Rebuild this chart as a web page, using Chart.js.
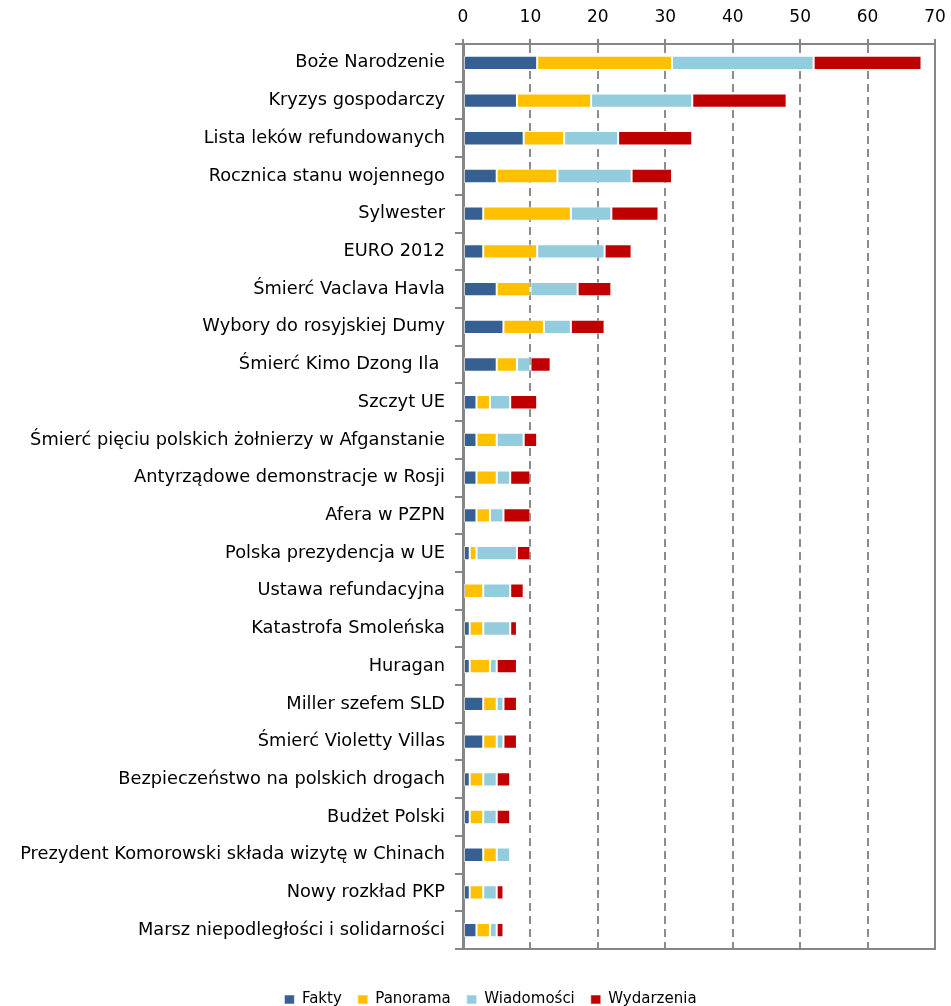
<!DOCTYPE html>
<html>
<head>
<meta charset="utf-8">
<script src="https://cdn.jsdelivr.net/npm/chart.js@4.4.0/dist/chart.umd.min.js"></script>
<style>
  html, body { margin: 0; padding: 0; background: #fff; overflow: hidden; }
  #wrap { position: relative; width: 951px; height: 1017px; }
</style>
</head>
<body>
<div id="wrap"><canvas id="c"></canvas></div>
<script>
const categories = [
  "Boże Narodzenie",
  "Kryzys gospodarczy",
  "Lista leków refundowanych",
  "Rocznica stanu wojennego",
  "Sylwester",
  "EURO 2012",
  "Śmierć Vaclava Havla",
  "Wybory do rosyjskiej Dumy",
  "Śmierć Kimo Dzong Ila ",
  "Szczyt UE",
  "Śmierć pięciu polskich żołnierzy w Afganstanie",
  "Antyrządowe demonstracje w Rosji",
  "Afera w PZPN",
  "Polska prezydencja w UE",
  "Ustawa refundacyjna",
  "Katastrofa Smoleńska",
  "Huragan",
  "Miller szefem SLD",
  "Śmierć Violetty Villas",
  "Bezpieczeństwo na polskich drogach",
  "Budżet Polski",
  "Prezydent Komorowski składa wizytę w Chinach",
  "Nowy rozkład PKP",
  "Marsz niepodległości i solidarności"
];
const fakty       = [11, 8, 9, 5, 3, 3, 5, 6, 5, 2, 2, 2, 2, 1, 0, 1, 1, 3, 3, 1, 1, 3, 1, 2];
const panorama    = [20, 11, 6, 9, 13, 8, 5, 6, 3, 2, 3, 3, 2, 1, 3, 2, 3, 2, 2, 2, 2, 2, 2, 2];
const wiadomosci  = [21, 15, 8, 11, 6, 10, 7, 4, 2, 3, 4, 2, 2, 6, 4, 4, 1, 1, 1, 2, 2, 2, 2, 1];
const wydarzenia  = [16, 14, 11, 6, 7, 4, 5, 5, 3, 4, 2, 3, 4, 2, 2, 1, 3, 2, 2, 2, 2, 0, 1, 1];
const seriesNames = ["Fakty", "Panorama", "Wiadomości", "Wydarzenia"];
const xTicks = [0, 10, 20, 30, 40, 50, 60, 70];

const colors = ["#376092", "#FFC000", "#93CDDD", "#C00000"];
const seriesData = [fakty, panorama, wiadomosci, wydarzenia];
const FONT = "'DejaVu Sans', Verdana, sans-serif";
const AXIS = "#868686";

const plotBorder = {
  id: 'plotBorder',
  afterLayout(chart) {
    if (chart.legend) { chart.legend.left += 23; chart.legend.right += 23; }
  },
  afterDraw(chart) {
    const {ctx, chartArea: a} = chart;
    ctx.save();
    ctx.strokeStyle = AXIS;
    ctx.lineWidth = 2;
    ctx.beginPath();
    ctx.moveTo(a.right, a.top);
    ctx.lineTo(a.right, a.bottom);
    ctx.lineTo(a.left, a.bottom);
    ctx.stroke();
    ctx.restore();
  }
};

new Chart(document.getElementById('c'), {
  type: 'bar',
  data: {
    labels: categories,
    datasets: seriesData.map((d, i) => ({
      label: seriesNames[i],
      data: d,
      backgroundColor: colors[i],
      borderColor: 'rgba(255,255,255,0.55)',
      borderWidth: 1,
      borderSkipped: false,
      barPercentage: 0.38,
      categoryPercentage: 1.0
    }))
  },
  options: {
    indexAxis: 'y',
    responsive: true,
    maintainAspectRatio: false,
    animation: false,
    layout: { padding: { left: 0, right: 16, top: 0, bottom: 0 } },
    plugins: {
      tooltip: { enabled: false },
      legend: {
        position: 'bottom',
        labels: {
          font: { family: FONT, size: 15 },
          color: '#000',
          boxWidth: 10,
          boxHeight: 9,
          padding: 16
        }
      }
    },
    scales: {
      x: {
        type: 'linear',
        position: 'top',
        stacked: true,
        min: 0,
        max: 70,
        afterBuildTicks: s => { s.ticks = xTicks.map(v => ({ value: v })); },
        afterFit: s => { s.height = 44; s.paddingRight = 0; s.paddingLeft = 0; },
        ticks: {
          font: { family: FONT, size: 17 },
          color: '#000',
          padding: 11
        },
        grid: {
          color: ctx => (ctx.tick && ctx.tick.value === 0) ? 'rgba(0,0,0,0)' : '#8c8c8c',
          lineWidth: 2,
          tickLength: 5,
          tickColor: AXIS,
          tickWidth: 2,
          tickBorderDash: []
        },
        border: {
          display: true,
          color: AXIS,
          width: 2,
          dash: ctx => (ctx.tick && ctx.tick.value === 70) ? [] : [8, 5]
        }
      },
      xb: {
        type: 'linear',
        axis: 'x',
        position: 'bottom',
        display: true,
        afterFit: s => { s.height = 27; s.paddingRight = 0; s.paddingLeft = 0; },
        ticks: { display: false },
        grid: { display: false },
        border: { display: false }
      },
      y: {
        stacked: true,
        afterFit: s => { s.width = 463; },
        ticks: {
          font: { family: FONT, size: 17.8 },
          color: '#000',
          padding: 10,
          autoSkip: false
        },
        grid: {
          offset: true,
          drawOnChartArea: false,
          tickLength: 8,
          color: AXIS,
          lineWidth: 2
        },
        border: { display: true, color: AXIS, width: 3 }
      }
    }
  },
  plugins: [plotBorder]
});
</script>
</body>
</html>
